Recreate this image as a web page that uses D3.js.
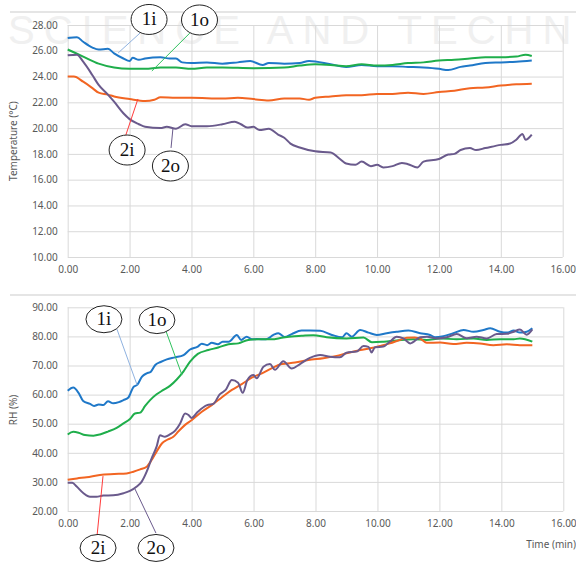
<!DOCTYPE html>
<html>
<head>
<meta charset="utf-8">
<title>Temperature and RH</title>
<script src="https://d3js.org/d3.v7.min.js"></script>
<style>
  body { margin: 0; background: #fff; }
  svg text { font-family: "Noto Sans", "Liberation Sans", sans-serif; }
</style>
</head>
<body>
<div id="chart"></div>
<script>
// [time (min), value]
var temp1i = [[0,27.0],[0.3,27.05],[0.5,26.7],[0.8,26.25],[1.0,26.1],[1.3,26.15],[1.5,25.8],[1.8,25.4],[2.0,25.2],[2.1,25.45],[2.3,25.3],[2.5,25.4],[3.0,25.5],[3.3,25.4],[3.5,25.4],[3.7,25.1],[4.0,25.05],[4.5,25.1],[5.0,25.0],[5.5,25.1],[5.9,25.2],[6.3,24.9],[6.5,25.05],[7.0,25.0],[7.5,25.05],[7.8,25.2],[8.5,24.95],[9.0,24.75],[9.5,24.9],[10.0,24.8],[10.5,24.8],[11.0,24.75],[11.5,24.7],[12.0,24.6],[12.3,24.5],[12.7,24.75],[13.0,24.85],[13.5,25.05],[14.0,25.1],[14.5,25.15],[15.0,25.25]];
var temp1o = [[0,26.1],[0.5,25.55],[1.0,25.0],[1.5,24.7],[2.0,24.6],[2.5,24.6],[3.0,24.7],[3.5,24.7],[4.0,24.6],[4.5,24.7],[5.0,24.7],[6.0,24.65],[7.0,24.7],[7.5,24.85],[8.0,24.95],[8.5,24.9],[9.0,24.8],[9.5,24.95],[10.0,24.85],[10.5,24.9],[11.0,25.05],[11.5,25.1],[12.0,25.25],[12.5,25.3],[13.0,25.4],[13.5,25.5],[14.0,25.5],[14.5,25.55],[14.8,25.7],[15.0,25.6]];
var temp2i = [[0,24.0],[0.2,24.0],[0.5,23.6],[0.8,23.1],[1.0,22.75],[1.3,22.6],[1.5,22.45],[2.0,22.25],[2.5,22.1],[2.8,22.2],[3.0,22.4],[3.5,22.35],[4.0,22.35],[5.0,22.3],[5.5,22.35],[6.0,22.25],[6.5,22.15],[7.0,22.3],[7.5,22.3],[7.8,22.2],[8.0,22.35],[8.5,22.45],[9.0,22.55],[9.5,22.55],[10.0,22.65],[10.5,22.65],[11.0,22.75],[11.5,22.65],[12.0,22.8],[12.5,22.9],[13.0,23.1],[13.5,23.15],[14.0,23.3],[14.5,23.4],[15.0,23.45]];
var temp2o = [[0,25.65],[0.3,25.7],[0.5,25.15],[0.8,24.1],[1.0,23.35],[1.3,22.6],[1.5,22.05],[1.8,21.15],[2.0,20.7],[2.3,20.3],[2.5,20.1],[3.0,20.0],[3.2,20.1],[3.5,19.95],[3.8,20.3],[4.0,20.15],[4.5,20.15],[5.0,20.3],[5.4,20.5],[5.6,20.3],[5.8,20.05],[6.0,20.1],[6.2,19.85],[6.5,19.95],[6.8,19.5],[7.0,19.25],[7.2,18.8],[7.5,18.5],[8.0,18.2],[8.5,18.1],[8.8,17.6],[9.0,17.25],[9.3,17.15],[9.5,17.4],[9.8,17.05],[10.0,17.15],[10.2,16.95],[10.5,17.05],[10.8,17.3],[11.0,17.2],[11.3,16.95],[11.5,17.4],[12.0,17.6],[12.3,17.95],[12.5,18.0],[12.7,18.3],[13.0,18.45],[13.2,18.3],[13.5,18.45],[14.0,18.7],[14.3,18.8],[14.5,19.1],[14.7,19.55],[14.8,19.1],[15.0,19.5]];

var rh1i = [[0,61.3],[0.18,62.4],[0.35,60.6],[0.5,57.8],[0.72,56.8],[0.85,56.1],[1.0,56.6],[1.15,56.4],[1.3,57.7],[1.47,57.0],[1.65,57.4],[1.8,58.1],[1.96,59.0],[2.12,62.6],[2.25,63.4],[2.4,66.2],[2.55,67.3],[2.68,67.8],[2.82,70.1],[3.0,71.2],[3.2,72.1],[3.47,72.8],[3.74,73.6],[3.95,75.5],[4.2,76.5],[4.33,77.5],[4.5,77.0],[4.65,77.8],[4.85,77.3],[5.0,78.2],[5.2,78.2],[5.46,80.5],[5.6,78.8],[5.78,79.9],[5.95,79.0],[6.1,79.1],[6.4,79.0],[6.64,80.5],[6.8,81.1],[7.0,79.8],[7.23,80.8],[7.55,82.0],[7.83,82.0],[8.15,81.9],[8.53,80.5],[8.86,79.7],[9.0,81.1],[9.17,79.9],[9.44,82.2],[9.71,81.3],[9.98,80.5],[10.3,81.1],[10.62,81.6],[11.0,82.0],[11.38,81.1],[11.7,80.5],[11.86,79.7],[12.13,80.1],[12.45,81.1],[12.78,82.2],[13.1,81.6],[13.42,82.2],[13.64,82.8],[13.96,81.6],[14.18,81.3],[14.4,82.0],[14.6,81.3],[14.82,81.6],[15.0,82.8]];
var rh1o = [[0,46.3],[0.18,47.2],[0.35,46.9],[0.56,46.1],[0.83,45.9],[1.04,46.3],[1.3,47.3],[1.58,48.6],[1.8,50.1],[2.01,51.6],[2.17,53.5],[2.34,53.8],[2.5,56.1],[2.66,58.1],[2.87,60.1],[3.09,61.6],[3.3,63.0],[3.52,65.2],[3.74,68.0],[3.95,71.3],[4.2,74.0],[4.54,75.3],[4.86,76.2],[5.19,77.3],[5.51,77.6],[5.83,78.8],[6.16,79.0],[6.58,79.0],[6.91,79.5],[7.23,80.0],[7.55,80.2],[7.93,80.4],[8.36,79.7],[9.0,79.3],[9.55,79.6],[9.82,78.0],[10.2,78.2],[10.62,78.6],[11.16,79.0],[11.59,78.8],[12.02,79.3],[12.56,79.0],[13.1,79.3],[13.53,78.8],[13.96,79.0],[14.4,79.0],[14.6,79.3],[15.0,78.2]];
var rh2i = [[0,30.7],[0.3,31.2],[0.61,31.6],[1.04,32.4],[1.5,32.7],[1.9,32.9],[2.12,33.5],[2.34,34.3],[2.55,35.2],[2.71,37.5],[2.87,40.4],[3.04,43.2],[3.2,44.4],[3.41,45.5],[3.57,47.3],[3.79,49.6],[4.0,51.2],[4.33,54.1],[4.65,56.4],[4.98,59.1],[5.3,61.6],[5.62,63.6],[5.94,65.8],[6.27,67.3],[6.58,69.0],[6.91,70.5],[7.34,71.0],[7.77,71.9],[8.25,72.5],[8.68,73.3],[9.0,74.2],[9.45,75.3],[9.76,75.9],[10.08,76.7],[10.4,77.6],[10.73,78.8],[10.95,79.5],[11.2,79.6],[11.4,79.1],[11.59,77.8],[12.02,77.9],[12.45,77.4],[12.88,77.8],[13.31,77.6],[13.74,77.0],[14.18,77.3],[14.6,77.0],[15.0,77.0]];
var rh2o = [[0,29.7],[0.15,29.7],[0.29,28.4],[0.51,26.1],[0.72,24.9],[0.93,24.9],[1.15,25.3],[1.47,25.4],[1.8,26.1],[2.01,26.9],[2.23,28.4],[2.39,30.1],[2.55,33.5],[2.71,38.1],[2.87,42.1],[2.98,46.0],[3.14,45.5],[3.3,46.3],[3.47,47.6],[3.63,50.1],[3.79,53.5],[3.9,53.0],[4.0,52.0],[4.2,54.1],[4.5,56.4],[4.7,56.8],[4.9,60.0],[5.1,61.6],[5.3,65.0],[5.5,64.1],[5.65,60.6],[5.8,65.0],[6.0,66.7],[6.1,65.6],[6.32,69.6],[6.53,70.5],[6.69,68.5],[6.96,71.5],[7.23,69.0],[7.5,70.5],[7.82,72.6],[8.15,73.6],[8.47,73.0],[8.79,72.8],[9.0,74.4],[9.33,74.8],[9.55,76.7],[9.71,76.4],[9.81,74.5],[9.92,76.3],[10.19,76.5],[10.4,78.2],[10.62,79.9],[10.84,79.3],[11.06,77.6],[11.38,79.7],[11.6,79.9],[11.91,79.3],[12.24,79.7],[12.56,80.8],[12.88,79.4],[13.2,79.9],[13.53,79.3],[13.85,80.8],[14.18,80.9],[14.4,81.6],[14.6,82.4],[14.82,80.6],[15.0,82.4]];

var xTicks = [0, 2, 4, 6, 8, 10, 12, 14, 16];
var tempTicks = [10, 12, 14, 16, 18, 20, 22, 24, 26, 28];
var rhTicks = [20, 30, 40, 50, 60, 70, 80, 90];

var seriesNames = ["1i", "1o", "2i", "2o"];
var lineColors = { "1i": "#1f78c8", "1o": "#1fae4b", "2i": "#f26522", "2o": "#6a5a8c" };
var leaderColors = { "1i": "#8fb2e0", "1o": "#2fc25e", "2i": "#ff3b3b", "2o": "#6a5a8c" };

// callouts: bubble centre and leader line, in data units
var tempCallouts = [
  { name: "1i", t: 2.63, v: 28.43, from: [2.34, 27.38], to: [1.63, 25.83] },
  { name: "1o", t: 4.26, v: 28.39, from: [3.95, 27.38], to: [2.72, 24.43] },
  { name: "2i", t: 1.92, v: 18.30, from: [1.88, 19.47], to: [2.27, 22.26] },
  { name: "2o", t: 3.32, v: 17.06, from: [3.34, 18.46], to: [3.40, 19.93] }
];
var rhCallouts = [
  { name: "1i", t: 1.17, v: 85.9, from: [1.59, 82.5], to: [2.24, 63.3] },
  { name: "1o", t: 2.88, v: 85.6, from: [3.17, 81.9], to: [3.69, 66.7] },
  { name: "2i", t: 0.98, v: 7.3, from: [0.95, 11.8], to: [1.14, 32.0] },
  { name: "2o", t: 2.85, v: 7.3, from: [2.85, 12.4], to: [2.17, 27.6] }
];

var W = 576, H = 567;
var svg = d3.select("#chart").append("svg")
  .attr("width", W).attr("height", H);

// faint publisher watermark behind the top chart
svg.append("text")
  .attr("x", 8).attr("y", 44)
  .style("font-family", "Liberation Sans")
  .style("font-size", "40px")
  .style("letter-spacing", "9px")
  .attr("fill", "#f0f0f0")
  .text("SCIENCE AND TECHNOLOGY");

// chart frame top edges
svg.append("line").attr("x1", 10).attr("x2", W).attr("y1", 12).attr("y2", 12)
  .attr("stroke", "#dcdcdc").attr("stroke-width", 1.5);
svg.append("line").attr("x1", 10).attr("x2", W).attr("y1", 295).attr("y2", 295)
  .attr("stroke", "#dcdcdc").attr("stroke-width", 1.5);

function drawChart(cfg) {
  var x = d3.scaleLinear().domain([0, 16]).range([cfg.left, cfg.right]);
  var y = d3.scaleLinear().domain(cfg.yDomain).range([cfg.bottom, cfg.top]);
  var g = svg.append("g");

  // y axis + horizontal grid
  var ya = g.append("g")
    .attr("transform", "translate(" + cfg.left + ",0)")
    .call(d3.axisLeft(y).tickValues(cfg.yTicks).tickFormat(d3.format(".2f"))
      .tickSizeInner(-(cfg.right - cfg.left)).tickSizeOuter(0).tickPadding(10));
  // x axis + vertical grid
  var xa = g.append("g")
    .attr("transform", "translate(0," + cfg.bottom + ")")
    .call(d3.axisBottom(x).tickValues(xTicks).tickFormat(d3.format(".2f"))
      .tickSizeInner(-(cfg.bottom - cfg.top)).tickSizeOuter(0).tickPadding(9));
  [ya, xa].forEach(function (a) {
    a.select(".domain").remove();
    a.selectAll("line").attr("stroke", "#d9d9d9");
    a.selectAll("text").attr("fill", "#595959").style("font-size", "10px");
  });

  var line = d3.line()
    .x(function (d) { return x(d[0]); })
    .y(function (d) { return y(d[1]); })
    .curve(d3.curveMonotoneX);

  seriesNames.forEach(function (n) {
    g.append("path")
      .datum(cfg.data[n])
      .attr("fill", "none")
      .attr("stroke", lineColors[n])
      .attr("stroke-width", 2)
      .attr("stroke-linejoin", "round")
      .attr("d", line);
  });

  // axis title
  g.append("text")
    .attr("transform", "translate(" + cfg.titleX + "," + cfg.titleY + ") rotate(-90)")
    .attr("text-anchor", "middle")
    .attr("fill", "#595959")
    .style("font-size", "10px")
    .text(cfg.title);

  // callout bubbles
  cfg.callouts.forEach(function (c) {
    g.append("line")
      .attr("x1", x(c.from[0])).attr("y1", y(c.from[1]))
      .attr("x2", x(c.to[0])).attr("y2", y(c.to[1]))
      .attr("stroke", leaderColors[c.name]).attr("stroke-width", 1);
    g.append("ellipse")
      .attr("cx", x(c.t)).attr("cy", y(c.v))
      .attr("rx", 18).attr("ry", cfg.bubbleRy)
      .attr("fill", "#fff").attr("stroke", "#222").attr("stroke-width", 1);
    g.append("text")
      .attr("x", x(c.t)).attr("y", y(c.v) + 6)
      .attr("text-anchor", "middle")
      .style("font-family", "Liberation Serif, serif")
      .style("font-size", "19px")
      .attr("fill", "#111")
      .text(c.name);
  });
  return { x: x, y: y };
}

drawChart({
  left: 67.7, right: 562.7, top: 25, bottom: 257,
  yDomain: [10, 28], yTicks: tempTicks,
  data: { "1i": temp1i, "1o": temp1o, "2i": temp2i, "2o": temp2o },
  title: "Temperature (°C)", titleX: 17, titleY: 141,
  callouts: tempCallouts, bubbleRy: 15
});

drawChart({
  left: 67.7, right: 563.3, top: 307.3, bottom: 511,
  yDomain: [20, 90], yTicks: rhTicks,
  data: { "1i": rh1i, "1o": rh1o, "2i": rh2i, "2o": rh2o },
  title: "RH (%)", titleX: 17, titleY: 410,
  callouts: rhCallouts, bubbleRy: 13.5
});

svg.append("text")
  .attr("x", W).attr("y", 548)
  .attr("text-anchor", "end")
  .attr("fill", "#595959")
  .style("font-size", "10px")
  .text("Time (min)");
</script>
</body>
</html>
